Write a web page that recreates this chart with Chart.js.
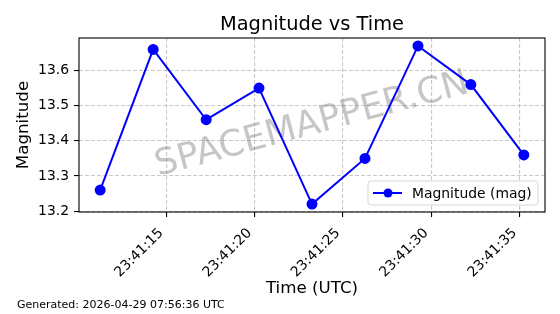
<!DOCTYPE html>
<html>
<head>
<meta charset="utf-8">
<script src="https://cdn.jsdelivr.net/npm/chart.js@4/dist/chart.umd.min.js"></script>
<style>
  html, body { margin: 0; padding: 0; background: #fff; }
  #wrap { width: 560px; height: 314px; }
</style>
</head>
<body>
<div id="wrap"><canvas id="magChart" width="560" height="314"></canvas></div>
<script>
// seconds after 23:41:00 UTC
const seconds = [11.26, 14.26, 17.26, 20.25, 23.25, 26.25, 29.25, 32.24, 35.24];
const magnitudes = [13.26, 13.66, 13.46, 13.55, 13.22, 13.35, 13.67, 13.56, 13.36];
const xTicks = [15, 20, 25, 30, 35];
const yTicks = [13.2, 13.3, 13.4, 13.5, 13.6];
const timePrefix = "23:41:";
const titleText = "Magnitude vs Time";
const footerText = "Generated: 2026-04-29 07:56:36 UTC";
const watermark = "SPACEMAPPER.CN";

const font = "DejaVu Sans";

// matplotlib-like 5% margins
const xSpan = seconds[seconds.length - 1] - seconds[0];
const yMin = Math.min(...magnitudes), yMax = Math.max(...magnitudes);
const ySpan = yMax - yMin;

const extras = {
    id: "extras",
    beforeDatasetsDraw(chart) {
        const a = chart.chartArea;
        const c = chart.ctx;
        c.save();
        c.translate((a.left + a.right) / 2, (a.top + a.bottom) / 2);
        c.rotate(-15 * Math.PI / 180);
        c.font = "36px '" + font + "'";
        c.fillStyle = "rgba(128,128,128,0.45)";
        c.textAlign = "center";
        c.textBaseline = "middle";
        c.fillText(watermark, 0, 0);
        c.restore();
    },
    afterDatasetsDraw(chart) {
        const a = chart.chartArea;
        const c = chart.ctx;
        c.save();
        c.strokeStyle = "#000";
        c.lineWidth = 1.1;
        c.strokeRect(a.left, a.top, a.right - a.left, a.bottom - a.top);

        // title centred over the axes
        c.fillStyle = "#000";
        c.font = "19.4px '" + font + "'";
        c.textAlign = "center";
        c.textBaseline = "alphabetic";
        c.fillText(titleText, (a.left + a.right) / 2, 29.5);

        // legend box, lower right
        const bw = 170, bh = 24;
        const bx = a.right - 7 - bw, by = a.bottom - 7 - bh;
        c.beginPath();
        c.roundRect(bx, by, bw, bh, 3);
        c.fillStyle = "rgba(255,255,255,0.8)";
        c.fill();
        c.strokeStyle = "#d6d6d6";
        c.lineWidth = 1;
        c.stroke();
        const ly = by + bh / 2;
        c.beginPath();
        c.moveTo(bx + 5, ly);
        c.lineTo(bx + 34, ly);
        c.strokeStyle = "#0000ff";
        c.lineWidth = 2;
        c.stroke();
        c.beginPath();
        c.arc(bx + 20, ly, 4.5, 0, Math.PI * 2);
        c.fillStyle = "#0000ff";
        c.fill();
        c.fillStyle = "#000";
        c.font = "13.9px '" + font + "'";
        c.textAlign = "left";
        c.textBaseline = "middle";
        c.fillText("Magnitude (mag)", bx + 44, ly + 1);

        // footer
        c.font = "11px '" + font + "'";
        c.textBaseline = "alphabetic";
        c.fillText(footerText, 17, 308);
        c.restore();
    }
};

const gridOpts = {
    color: "rgba(176,176,176,0.7)",
    lineWidth: 1.1,
    tickColor: "#000",
    tickLength: 5,
    tickBorderDash: []
};

const ctx = document.getElementById("magChart").getContext("2d");
new Chart(ctx, {
    type: "line",
    data: {
        datasets: [{
            label: "Magnitude (mag)",
            data: seconds.map((s, i) => ({ x: s, y: magnitudes[i] })),
            borderColor: "#0000ff",
            backgroundColor: "#0000ff",
            borderWidth: 2,
            pointRadius: 4.5,
            pointHoverRadius: 4.5,
            tension: 0
        }]
    },
    options: {
        responsive: false,
        animation: false,
        layout: { padding: { left: 0, right: 15, top: 38, bottom: 0 } },
        plugins: {
            legend: { display: false },
            tooltip: { enabled: false },
            title: { display: false }
        },
        scales: {
            x: {
                type: "linear",
                min: seconds[0] - 0.05 * xSpan,
                max: seconds[seconds.length - 1] + 0.05 * xSpan,
                afterBuildTicks: (s) => { s.ticks = xTicks.map(v => ({ value: v })); },
                afterFit: (s) => { s.height = 102; },
                border: { display: false, dash: [4, 2] },
                grid: gridOpts,
                ticks: {
                    color: "#000",
                    font: { family: font, size: 13.9 },
                    padding: 8,
                    labelOffset: -5,
                    minRotation: 45,
                    maxRotation: 45,
                    autoSkip: false,
                    callback: (v) => timePrefix + String(v).padStart(2, "0")
                },
                title: {
                    display: true,
                    text: "Time (UTC)",
                    color: "#000",
                    font: { family: font, size: 16.7 },
                    padding: { top: 0, bottom: 15 }
                }
            },
            y: {
                min: yMin - 0.05 * ySpan,
                max: yMax + 0.05 * ySpan,
                afterBuildTicks: (s) => { s.ticks = yTicks.map(v => ({ value: v })); },
                afterFit: (s) => { s.width = 79; },
                border: { display: false, dash: [4, 2] },
                grid: gridOpts,
                ticks: {
                    color: "#000",
                    font: { family: font, size: 13.9 },
                    padding: 5,
                    callback: (v) => v.toFixed(1)
                },
                title: {
                    display: true,
                    text: "Magnitude",
                    color: "#000",
                    font: { family: font, size: 16.7 },
                    padding: { top: 14, bottom: 0 }
                }
            }
        }
    },
    plugins: [extras]
});
</script>
</body>
</html>
